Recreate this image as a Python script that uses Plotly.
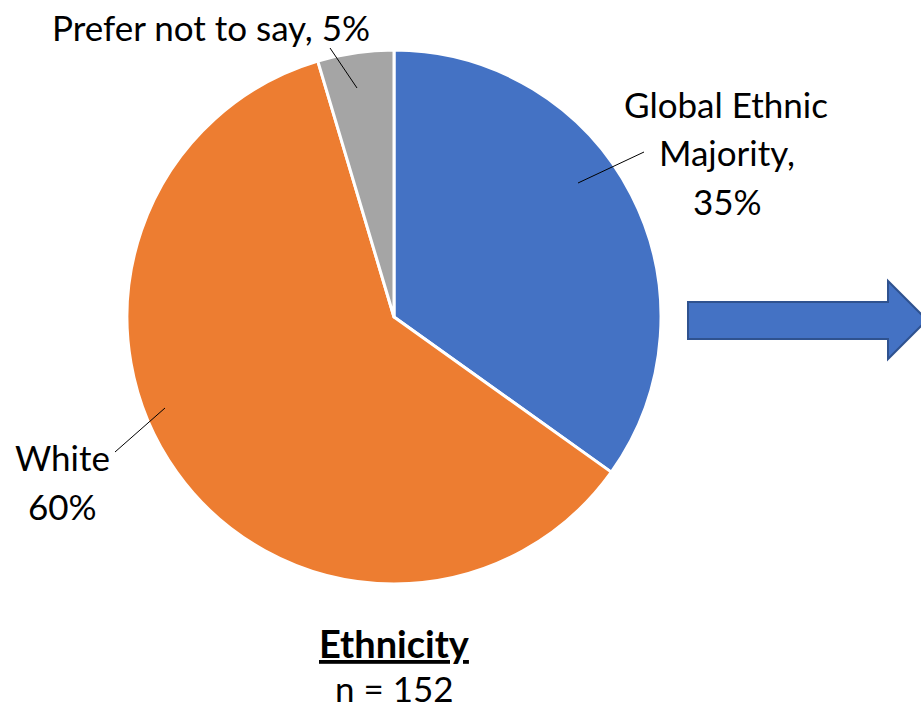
import plotly.graph_objects as go

# Data
labels = ["Global Ethnic Majority", "White", "Prefer not to say"]
counts = [53, 92, 7]
pct_labels = [35, 60, 5]
colors = ["#4472C4", "#ED7D31", "#A5A5A5"]
title_text = "Ethnicity"
n_total = 152

W, H = 921, 711
FONT = "Lato"
FS = 35

fig = go.Figure()
fig.add_trace(go.Pie(
    labels=labels, values=counts, sort=False, direction="clockwise", rotation=0,
    marker=dict(colors=colors, line=dict(color="white", width=3)),
    textinfo="none", hoverinfo="label+percent", showlegend=False,
    domain=dict(x=[127 / W, 661 / W], y=[1 - 584 / H, 1 - 50 / H]),
))

def txt(x, y, s, size=FS):
    fig.add_annotation(x=x, y=y, xref="x", yref="y", text=s, showarrow=False,
                       xanchor="center", yanchor="middle",
                       font=dict(family=FONT, size=size, color="black"))

# Blue label
txt(726, 104, "Global Ethnic")
txt(727, 152, "Majority,")
txt(727, 201, f"{pct_labels[0]}%")
# White label
txt(62, 457, labels[1])
txt(62, 506, f"{pct_labels[1]}%")
# Gray label
txt(211, 27, f"{labels[2]}, {pct_labels[2]}%")
# Title
txt(394, 643, f"<b><u>{title_text}</u></b>", size=38)
txt(394, 688, f"n = {n_total}")

# leader lines
for x0, y0, x1, y1 in [(578, 183, 644, 152), (115, 452, 165, 408), (330, 48, 357, 88)]:
    fig.add_shape(type="line", x0=x0, y0=y0, x1=x1, y1=y1, xref="x", yref="y",
                  line=dict(color="black", width=1))

# block arrow
fig.add_shape(type="path", xref="x", yref="y",
              path="M 688 302 L 888 302 L 888 281 L 927 320 L 888 359 L 888 339 L 688 339 Z",
              fillcolor="#4472C4", line=dict(color="#2F528F", width=2))

fig.update_layout(
    width=W, height=H, margin=dict(l=0, r=0, t=0, b=0),
    paper_bgcolor="white", plot_bgcolor="white",
    xaxis=dict(range=[0, W], visible=False, fixedrange=True),
    yaxis=dict(range=[H, 0], visible=False, fixedrange=True),
)
fig.write_html("out.html")
